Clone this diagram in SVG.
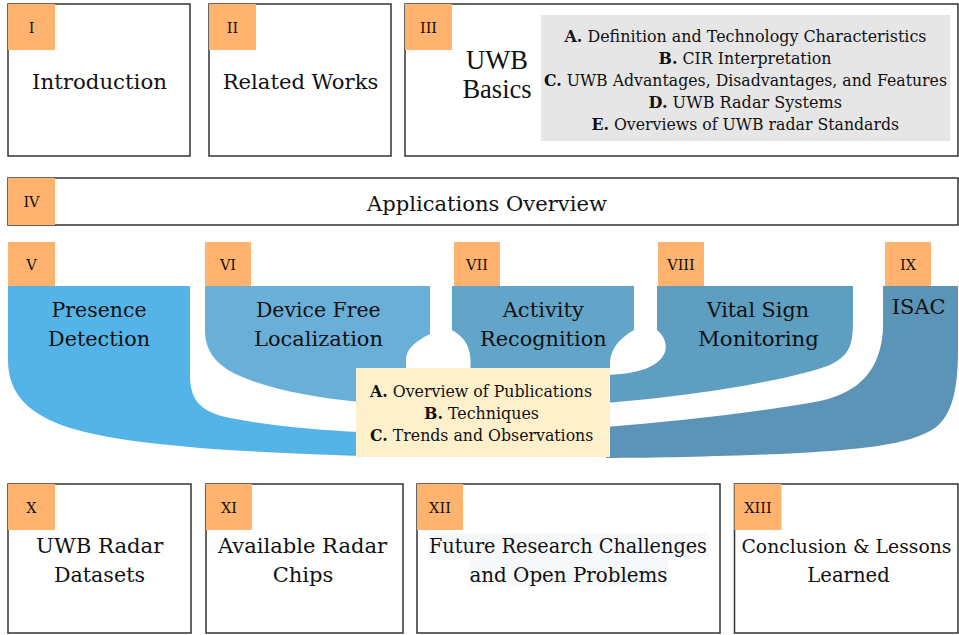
<svg xmlns="http://www.w3.org/2000/svg" width="959" height="635" viewBox="0 0 959 635">
<style>
.box{fill:#fff;stroke:#333;stroke-width:1.5}
.tag{fill:#ffb36e}
.tt{font-family:"DejaVu Serif","Liberation Serif",serif;font-size:14.5px;fill:#111;text-anchor:middle}
.lbl{font-family:"DejaVu Serif","Liberation Serif",serif;font-size:21px;fill:#111;text-anchor:middle}
.sm{font-family:"DejaVu Serif","Liberation Serif",serif;font-size:15.8px;fill:#111;text-anchor:middle}
.big{font-family:"Liberation Serif","Times New Roman",serif;font-size:26.5px;fill:#111;text-anchor:middle}
.b{font-weight:bold}
</style>
<g id="n1">
<rect class="box" x="8" y="4" width="182" height="152"/>
<rect class="tag" x="8" y="4" width="47" height="46"/>
<text class="tt" x="31.5" y="32.5">I</text>
<text class="lbl" x="99.5" y="89" textLength="135" lengthAdjust="spacingAndGlyphs">Introduction</text>
</g>
<g id="n2">
<rect class="box" x="209" y="4" width="182" height="152"/>
<rect class="tag" x="209" y="4" width="47" height="46"/>
<text class="tt" x="232.5" y="32.5">II</text>
<text class="lbl" x="300.5" y="89" textLength="155.6" lengthAdjust="spacingAndGlyphs">Related Works</text>
</g>
<g id="n3">
<rect class="box" x="405" y="4" width="553" height="152"/>
<rect class="tag" x="405" y="4" width="47" height="46"/>
<text class="tt" x="428.5" y="32.5">III</text>
<text class="big" x="497" y="68.5">UWB</text>
<text class="big" x="497" y="97.5">Basics</text>
<rect x="541" y="15" width="409" height="126" fill="#e6e6e6"/>
<text class="sm" x="745.5" y="41.5" textLength="362" lengthAdjust="spacingAndGlyphs"><tspan class="b">A.</tspan> Definition and Technology Characteristics</text>
<text class="sm" x="745" y="63.5" textLength="173" lengthAdjust="spacingAndGlyphs"><tspan class="b">B.</tspan> CIR Interpretation</text>
<text class="sm" x="745.5" y="85.5" textLength="403" lengthAdjust="spacingAndGlyphs"><tspan class="b">C.</tspan> UWB Advantages, Disadvantages, and Features</text>
<text class="sm" x="745.3" y="107.5" textLength="193.5" lengthAdjust="spacingAndGlyphs"><tspan class="b">D.</tspan> UWB Radar Systems</text>
<text class="sm" x="745.3" y="130" textLength="307.7" lengthAdjust="spacingAndGlyphs"><tspan class="b">E.</tspan> Overviews of UWB radar Standards</text>
</g>
<g id="n4">
<rect class="box" x="8" y="178" width="950" height="47"/>
<rect class="tag" x="8" y="178" width="47" height="47"/>
<text class="tt" x="31.5" y="207">IV</text>
<text class="lbl" x="487" y="210.5" textLength="240" lengthAdjust="spacingAndGlyphs">Applications Overview</text>
</g>
<g id="connectors">
<path id="c5" fill="#55b4e7" d="M8,286 H190 V378 C191,400 200,412 230,418 C270,426 320,430 360,432 V456 C240,452 130,446 70,428 C30,415 8,395 8,360 Z"/>
<path id="c6" fill="#69afd8" d="M205,286 H430 V334 C418,340 406,348 406,360 V372 H360 V402 C310,397 270,389 240,376 C215,365 205,350 205,330 Z"/>
<path id="c7" fill="#62a5c9" d="M452,286 H634 V330 C620,338 611,348 610,362 V372 H470 C472,355 470,340 452,330 Z"/>
<path id="c8" fill="#5e9ec1" d="M657,286 H853 V320 C853,345 850,355 830,365 C790,380 700,395 606,403 V375 C640,374 660,366 665,352 C668,342 662,334 657,330 Z"/>
<path id="c9" fill="#5b94b6" d="M883,286 H958 V350 C958,390 952,415 935,428 C910,445 860,450 780,454 C700,457 650,458 606,458 V427 C680,421 760,412 820,401 C860,392 880,370 883,330 Z"/>
</g>
<g id="n5">
<rect class="tag" x="8" y="242" width="47" height="44"/>
<text class="tt" x="31.5" y="270">V</text>
<text class="lbl" x="99" y="317" textLength="95" lengthAdjust="spacingAndGlyphs">Presence</text>
<text class="lbl" x="99" y="346" textLength="102" lengthAdjust="spacingAndGlyphs">Detection</text>
</g>
<g id="n6">
<rect class="tag" x="205" y="242" width="46" height="44"/>
<text class="tt" x="228" y="270">VI</text>
<text class="lbl" x="318.3" y="317" textLength="124.7" lengthAdjust="spacingAndGlyphs">Device Free</text>
<text class="lbl" x="318.5" y="346" textLength="129" lengthAdjust="spacingAndGlyphs">Localization</text>
</g>
<g id="n7">
<rect class="tag" x="454" y="242" width="46" height="44"/>
<text class="tt" x="477" y="270">VII</text>
<text class="lbl" x="543.3" y="317" textLength="81.3" lengthAdjust="spacingAndGlyphs">Activity</text>
<text class="lbl" x="543.3" y="346" textLength="126.7" lengthAdjust="spacingAndGlyphs">Recognition</text>
</g>
<g id="n8">
<rect class="tag" x="658" y="242" width="46" height="44"/>
<text class="tt" x="681" y="270">VIII</text>
<text class="lbl" x="757.8" y="317" textLength="102.3" lengthAdjust="spacingAndGlyphs">Vital Sign</text>
<text class="lbl" x="758.5" y="346" textLength="121" lengthAdjust="spacingAndGlyphs">Monitoring</text>
</g>
<g id="n9">
<rect class="tag" x="885" y="242" width="46" height="44"/>
<text class="tt" x="908" y="270">IX</text>
<text class="lbl" x="918.7" y="314" textLength="54" lengthAdjust="spacingAndGlyphs">ISAC</text>
</g>
<g id="hub">
<rect x="356" y="368" width="254" height="89" fill="#fff0cc"/>
<text class="sm" x="481" y="396.5" textLength="222" lengthAdjust="spacingAndGlyphs"><tspan class="b">A.</tspan> Overview of Publications</text>
<text class="sm" x="481.5" y="419" textLength="115" lengthAdjust="spacingAndGlyphs"><tspan class="b">B.</tspan> Techniques</text>
<text class="sm" x="481.7" y="440.5" textLength="223.3" lengthAdjust="spacingAndGlyphs"><tspan class="b">C.</tspan> Trends and Observations</text>
</g>
<g id="n10">
<rect class="box" x="8" y="484" width="183" height="149"/>
<rect class="tag" x="8" y="484" width="47" height="46"/>
<text class="tt" x="31.5" y="512.5">X</text>
<text class="lbl" x="99.7" y="553" textLength="127.3" lengthAdjust="spacingAndGlyphs">UWB Radar</text>
<text class="lbl" x="99.5" y="582" textLength="91" lengthAdjust="spacingAndGlyphs">Datasets</text>
</g>
<g id="n11">
<rect class="box" x="206" y="484" width="197" height="149"/>
<rect class="tag" x="206" y="484" width="46" height="46"/>
<text class="tt" x="229" y="512.5">XI</text>
<text class="lbl" x="302.5" y="553" textLength="169" lengthAdjust="spacingAndGlyphs">Available Radar</text>
<text class="lbl" x="303" y="582" textLength="60.7" lengthAdjust="spacingAndGlyphs">Chips</text>
</g>
<g id="n12">
<rect class="box" x="417" y="484" width="303" height="149"/>
<rect class="tag" x="417" y="484" width="46" height="46"/>
<text class="tt" x="440" y="512.5">XII</text>
<rect x="428.5" y="533" width="280" height="26.5" fill="#f6f8fa"/>
<rect x="469.5" y="559.5" width="198.5" height="26.5" fill="#f6f8fa"/>
<text class="lbl" x="568" y="553" textLength="278" lengthAdjust="spacingAndGlyphs">Future Research Challenges</text>
<text class="lbl" x="568.5" y="582" textLength="198" lengthAdjust="spacingAndGlyphs">and Open Problems</text>
</g>
<g id="n13">
<rect class="box" x="734.5" y="484" width="223.5" height="149"/>
<rect class="tag" x="734.5" y="484" width="47" height="46"/>
<text class="tt" x="758" y="512.5">XIII</text>
<text class="lbl" x="846.5" y="553" style="font-size:19.2px" textLength="210" lengthAdjust="spacingAndGlyphs">Conclusion &amp; Lessons</text>
<text class="lbl" x="848.5" y="582" textLength="82.5" lengthAdjust="spacingAndGlyphs">Learned</text>
</g>
</svg>
